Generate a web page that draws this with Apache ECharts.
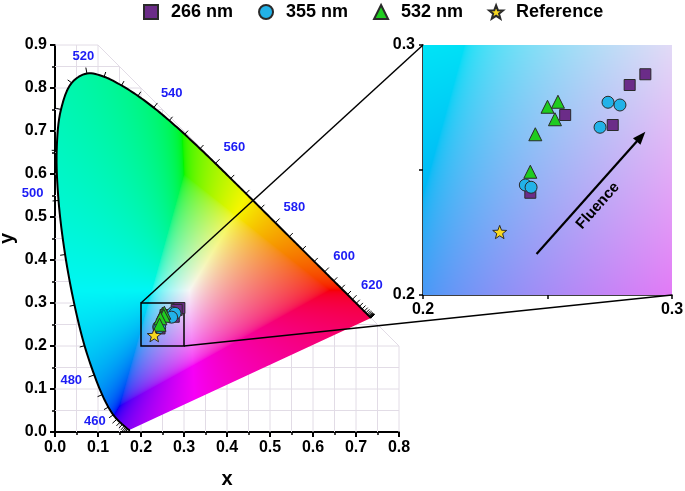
<!DOCTYPE html>
<html><head><meta charset="utf-8">
<script src="https://cdn.jsdelivr.net/npm/echarts@6/dist/echarts.min.js"></script>
<style>html,body{margin:0;padding:0;background:#fff}#c{width:685px;height:491px}</style>
</head><body><div id="c"></div>
<script>
const FONT = '"Liberation Sans", Arial, Helvetica, sans-serif';

// CIE 1931 2-degree spectral locus (5 nm steps)
const locusWavelengths = [380,385,390,395,400,405,410,415,420,425,430,435,440,445,450,455,460,465,470,475,480,485,490,495,500,505,510,515,520,525,530,535,540,545,550,555,560,565,570,575,580,585,590,595,600,605,610,615,620,625,630,635,640,645,650,655,660,665,670,675,680,685,690,695,700];
const locusX = [0.1741,0.1740,0.1738,0.1736,0.1733,0.1730,0.1726,0.1721,0.1714,0.1703,0.1689,0.1669,0.1644,0.1611,0.1566,0.1510,0.1440,0.1355,0.1241,0.1096,0.0913,0.0687,0.0454,0.0235,0.0082,0.0039,0.0139,0.0389,0.0743,0.1142,0.1547,0.1929,0.2296,0.2658,0.3016,0.3373,0.3731,0.4087,0.4441,0.4788,0.5125,0.5448,0.5752,0.6029,0.6270,0.6482,0.6658,0.6801,0.6915,0.7006,0.7079,0.7140,0.7190,0.7230,0.7260,0.7283,0.7300,0.7311,0.7320,0.7327,0.7334,0.7340,0.7344,0.7346,0.7347];
const locusY = [0.0050,0.0050,0.0049,0.0049,0.0048,0.0048,0.0048,0.0048,0.0051,0.0058,0.0069,0.0086,0.0109,0.0138,0.0177,0.0227,0.0297,0.0399,0.0578,0.0868,0.1327,0.2007,0.2950,0.4127,0.5384,0.6548,0.7502,0.8120,0.8338,0.8262,0.8059,0.7816,0.7543,0.7243,0.6923,0.6589,0.6245,0.5896,0.5547,0.5202,0.4866,0.4544,0.4242,0.3965,0.3725,0.3514,0.3340,0.3197,0.3083,0.2993,0.2920,0.2859,0.2809,0.2770,0.2740,0.2717,0.2700,0.2689,0.2680,0.2673,0.2666,0.2660,0.2656,0.2654,0.2653];
const labeledWavelengths = [460,480,500,520,540,560,580,600,620];
const tickStartWavelength = 430;

// measured chromaticity points
const seriesNames = ['266 nm','355 nm','532 nm','Reference'];
const data266 = [[0.2893,0.2883],[0.2830,0.2840],[0.2571,0.2720],[0.2762,0.2680],[0.2431,0.2409]];
const data355 = [[0.2743,0.2771],[0.2791,0.2760],[0.2711,0.2671],[0.2411,0.2440],[0.2434,0.2431]];
const data532 = [[0.2500,0.2753],[0.2542,0.2773],[0.2530,0.2703],[0.2451,0.2643],[0.2431,0.2493]];
const dataRef = [[0.2308,0.2252]];

// zoom window and annotation
const zoomX = [0.2, 0.3];
const zoomY = [0.2, 0.3];
const arrowFrom = [0.2456, 0.2164];
const arrowTo = [0.2893, 0.2653];
const fluenceText = 'Fluence';
const fluencePos = [0.2702, 0.2357];

// layout/styling (not data)
const wlLabelOffset = {460:[-22,2.5],480:[-23,5],500:[-26,-7],520:[-3.5,-17],540:[18,-14],560:[19,-16],580:[19,-15],600:[19.5,-15],620:[19.5,-14]};
const COLORS = {sq:'#6b2c88', ci:'#22b2e8', tr:'#1fcc1f', st:'#f8d820'};

function starPath(){
  let s = 'path://';
  for (let k=0;k<10;k++){
    const a = -Math.PI/2 + k*Math.PI/5, r = k%2===0?1:0.42;
    s += (k===0?'M':'L') + (r*Math.cos(a)).toFixed(4) + ' ' + (r*Math.sin(a)).toFixed(4) + ' ';
  }
  return s + 'Z';
}
const STAR = starPath();

// centripetal Catmull-Rom through pixel points (drawing only)
function smoothPath(pts, steps){
  const out = [];
  const n = pts.length;
  const P = i => {
    if (i < 0) return [2*pts[0][0]-pts[1][0], 2*pts[0][1]-pts[1][1]];
    if (i >= n) return [2*pts[n-1][0]-pts[n-2][0], 2*pts[n-1][1]-pts[n-2][1]];
    return pts[i];
  };
  const dt = (a,b) => Math.max(Math.pow(Math.hypot(b[0]-a[0], b[1]-a[1]), 0.5), 1e-4);
  const lerp = (a,b,ta,tb,t) => [ (tb-t)/(tb-ta)*a[0] + (t-ta)/(tb-ta)*b[0], (tb-t)/(tb-ta)*a[1] + (t-ta)/(tb-ta)*b[1] ];
  for (let i=0;i<n-1;i++){
    const p0=P(i-1), p1=P(i), p2=P(i+1), p3=P(i+2);
    const t0=0, t1=t0+dt(p0,p1), t2=t1+dt(p1,p2), t3=t2+dt(p2,p3);
    for (let s=0;s<steps;s++){
      const t = t1 + (t2-t1)*s/steps;
      const A1=lerp(p0,p1,t0,t1,t), A2=lerp(p1,p2,t1,t2,t), A3=lerp(p2,p3,t2,t3,t);
      const B1=lerp(A1,A2,t0,t2,t), B2=lerp(A2,A3,t1,t3,t);
      out.push(lerp(B1,B2,t1,t2,t));
    }
  }
  out.push(pts[n-1]);
  return out;
}

function xyToRGB(x, y){
  const X = x/y, Y = 1, Z = (1-x-y)/y;
  let r = 3.2406*X - 1.5372*Y - 0.4986*Z;
  let g = -0.9689*X + 1.8758*Y + 0.0415*Z;
  let b = 0.0557*X - 0.2040*Y + 1.0570*Z;
  const m = Math.min(r,g,b);
  if (m < 0){ r -= m; g -= m; b -= m; }
  const M = Math.max(r,g,b);
  r/=M; g/=M; b/=M;
  const gm = v => v <= 0.0031308 ? 12.92*v : 1.055*Math.pow(v,1/2.4) - 0.055;
  return [gm(r)*246, gm(g)*246, gm(b)*246];
}

function makeImage(w, h, x0, x1, y0, y1, clipPts){
  w = Math.round(w); h = Math.round(h);
  const c = document.createElement('canvas'); c.width = w; c.height = h;
  const ctx = c.getContext('2d');
  const img = ctx.createImageData(w, h);
  for (let j=0;j<h;j++){
    const yy = y1 - (j+0.5)/h*(y1-y0);
    for (let i=0;i<w;i++){
      const xx = x0 + (i+0.5)/w*(x1-x0);
      const k = (j*w+i)*4;
      if (yy <= 0.001 || xx + yy > 1.2){ img.data[k+3]=0; continue; }
      const rgb = xyToRGB(xx, yy);
      img.data[k]=rgb[0]; img.data[k+1]=rgb[1]; img.data[k+2]=rgb[2]; img.data[k+3]=255;
    }
  }
  ctx.putImageData(img, 0, 0);
  if (!clipPts) return c;
  const c2 = document.createElement('canvas'); c2.width = w; c2.height = h;
  const ctx2 = c2.getContext('2d');
  ctx2.beginPath();
  clipPts.forEach((p,i)=> i===0 ? ctx2.moveTo(p[0],p[1]) : ctx2.lineTo(p[0],p[1]));
  ctx2.closePath();
  ctx2.clip();
  ctx2.drawImage(c, 0, 0);
  return c2;
}

let mainImg = null, insetImg = null;

const chart = echarts.init(document.getElementById('c'), null, {renderer:'canvas'});

function axisCommon(){
  return {
    type:'value',
    axisLine:{show:true, onZero:false, lineStyle:{color:'#000', width:2}},
    axisTick:{show:true, length:5, lineStyle:{color:'#000', width:2}},
    splitLine:{show:false},
    axisLabel:{color:'#000', fontSize:16, fontWeight:'bold', fontFamily:FONT, formatter: v => v.toFixed(1)}
  };
}

function scat(name, data, gi, symbol, size, color, z){
  return {type:'scatter', name, data, xAxisIndex:gi, yAxisIndex:gi, symbol, symbolSize:size, symbolKeepAspect:true,
    itemStyle:{color, borderColor:'#2a2a2a', borderWidth:1, opacity:1}, z:z, silent:true, emphasis:{disabled:true}};
}

const option = {
  animation:false,
  backgroundColor:'#fff',
  legend:{
    data: seriesNames, left:143, top:3, padding:0, itemWidth:14, itemHeight:14, itemGap:25, selectedMode:false,
    textStyle:{fontSize:18, fontWeight:'bold', color:'#000', fontFamily:FONT, padding:[0,0,0,8]}
  },
  grid:[
    {left:55, top:45, width:344, height:387, outerBoundsMode:'none', containLabel:false},
    {left:423, top:45, width:249, height:250, outerBoundsMode:'none', containLabel:false}
  ],
  xAxis:[
    Object.assign(axisCommon(), {gridIndex:0, min:0, max:0.8, interval:0.1,
      minorTick:{show:true, splitNumber:2, length:3, lineStyle:{color:'#000', width:1.5}},
      name:'x', nameLocation:'middle', nameGap:37, nameMoveOverlap:false,
      nameTextStyle:{fontSize:20, fontWeight:'bold', color:'#000', fontFamily:FONT}}),
    Object.assign(axisCommon(), {gridIndex:1, min:0.2, max:0.3, interval:0.05,
      axisLine:{show:true, onZero:false, lineStyle:{color:'#000', width:1.5}},
      axisTick:{show:true, length:4, lineStyle:{color:'#000', width:1.5}},
      axisLabel:{color:'#000', fontSize:16, fontWeight:'bold', fontFamily:FONT, margin:7,
        formatter: v => Math.abs(v-0.25) < 1e-6 ? '' : v.toFixed(1)}})
  ],
  yAxis:[
    Object.assign(axisCommon(), {gridIndex:0, min:0, max:0.9, interval:0.1,
      minorTick:{show:true, splitNumber:2, length:3, lineStyle:{color:'#000', width:1.5}},
      name:'y', nameLocation:'middle', nameGap:38, nameMoveOverlap:false,
      nameTextStyle:{fontSize:20, fontWeight:'bold', color:'#000', fontFamily:FONT}}),
    Object.assign(axisCommon(), {gridIndex:1, min:0.2, max:0.3, interval:0.05,
      axisLine:{show:true, onZero:false, lineStyle:{color:'#000', width:1.5}},
      axisTick:{show:true, length:4, lineStyle:{color:'#000', width:1.5}},
      axisLabel:{color:'#000', fontSize:16, fontWeight:'bold', fontFamily:FONT, margin:8,
        formatter: v => Math.abs(v-0.25) < 1e-6 ? '' : v.toFixed(1)}})
  ],
  series:[
    // background grid within x+y<=1
    {type:'custom', xAxisIndex:0, yAxisIndex:0, data:[[0,0]], z:1, silent:true,
      renderItem:function(params, api){
        const ch = [];
        const st = {stroke:'#e2dce6', lineWidth:1};
        for (let k=1;k<=16;k++){
          const x = k*0.05, ytop = Math.min(0.9, 1-x);
          const a = api.coord([x,0]), b = api.coord([x,ytop]);
          ch.push({type:'line', shape:{x1:a[0],y1:a[1],x2:b[0],y2:b[1]}, style:st});
        }
        for (let k=1;k<=18;k++){
          const y = k*0.05, xr = Math.min(0.8, 1-y);
          const a = api.coord([0,y]), b = api.coord([xr,y]);
          ch.push({type:'line', shape:{x1:a[0],y1:a[1],x2:b[0],y2:b[1]}, style:st});
        }
        const a = api.coord([0.1,0.9]), b = api.coord([0.8,0.2]);
        ch.push({type:'line', shape:{x1:a[0],y1:a[1],x2:b[0],y2:b[1]}, style:st});
        return {type:'group', children:ch};
      }},
    // chromaticity colour fill
    {type:'custom', xAxisIndex:0, yAxisIndex:0, data:[[0,0]], z:2, silent:true,
      renderItem:function(params, api){
        const cs = params.coordSys;
        if (!mainImg){
          const raw = locusX.map((x,i)=>api.coord([x, locusY[i]]));
          const pts = smoothPath(raw, 8).map(p=>[p[0]-cs.x, p[1]-cs.y]);
          mainImg = makeImage(cs.width, cs.height, 0, 0.8, 0, 0.9, pts);
        }
        return {type:'image', style:{image:mainImg, x:cs.x, y:cs.y, width:cs.width, height:cs.height}};
      }},
    // spectral locus line, ticks and labels
    {type:'custom', xAxisIndex:0, yAxisIndex:0, data:[[0,0]], z:3, silent:true,
      renderItem:function(params, api){
        const pts = locusX.map((x,i)=>api.coord([x, locusY[i]]));
        const ch = [{type:'polyline', shape:{points:smoothPath(pts, 8)}, style:{stroke:'#000', lineWidth:2, fill:null, lineJoin:'round'}}];
        const n = pts.length;
        for (let i=0;i<n;i++){
          const wl = locusWavelengths[i];
          if (wl < tickStartWavelength) continue;
          let p0 = pts[Math.max(i-1,0)], p1 = pts[Math.min(i+1,n-1)];
          let tx = p1[0]-p0[0], ty = p1[1]-p0[1];
          let L = Math.hypot(tx,ty);
          if (L < 1){ p0 = pts[n-12]; p1 = pts[n-1]; tx = p1[0]-p0[0]; ty = p1[1]-p0[1]; L = Math.hypot(tx,ty); }
          tx/=L; ty/=L;
          const nx = ty, ny = -tx;
          const len = labeledWavelengths.indexOf(wl) >= 0 ? 6 : 5;
          const p = pts[i];
          ch.push({type:'line', shape:{x1:p[0], y1:p[1], x2:p[0]+nx*len, y2:p[1]+ny*len}, style:{stroke:'#000', lineWidth:1}});
        }
        labeledWavelengths.forEach(wl=>{
          const i = locusWavelengths.indexOf(wl);
          const p = pts[i], off = wlLabelOffset[wl];
          ch.push({type:'text', x:p[0]+off[0], y:p[1]+off[1],
            style:{text:String(wl), fill:'#1c1cf5', fontSize:13, fontWeight:'bold', fontFamily:FONT, align:'center', verticalAlign:'middle'}});
        });
        return {type:'group', children:ch};
      }},
    // zoom box in main chart
    {type:'custom', xAxisIndex:0, yAxisIndex:0, data:[[0,0]], z:4, silent:true,
      renderItem:function(params, api){
        const a = api.coord([zoomX[0], zoomY[1]]), b = api.coord([zoomX[1], zoomY[0]]);
        return {type:'rect', shape:{x:a[0], y:a[1], width:b[0]-a[0], height:b[1]-a[1]}, style:{stroke:'#000', lineWidth:1.5, fill:null}};
      }},
    // inset colour fill
    {type:'custom', xAxisIndex:1, yAxisIndex:1, data:[[0.25,0.25]], z:2, silent:true,
      renderItem:function(params, api){
        const cs = params.coordSys;
        if (!insetImg) insetImg = makeImage(cs.width, cs.height, zoomX[0], zoomX[1], zoomY[0], zoomY[1], null);
        return {type:'image', style:{image:insetImg, x:cs.x, y:cs.y, width:cs.width, height:cs.height}};
      }},
    // arrow + label in inset
    {type:'custom', xAxisIndex:1, yAxisIndex:1, data:[[0.25,0.25]], z:6, silent:true,
      renderItem:function(params, api){
        const p1 = api.coord(arrowFrom), p2 = api.coord(arrowTo);
        let dx = p2[0]-p1[0], dy = p2[1]-p1[1];
        const L = Math.hypot(dx,dy); dx/=L; dy/=L;
        const hl = 13, hw = 5;
        const bx = p2[0]-dx*hl, by = p2[1]-dy*hl;
        const tp = api.coord(fluencePos);
        return {type:'group', children:[
          {type:'line', shape:{x1:p1[0], y1:p1[1], x2:bx+dx*2, y2:by+dy*2}, style:{stroke:'#000', lineWidth:2.2}},
          {type:'polygon', shape:{points:[[p2[0],p2[1]],[bx-dy*hw, by+dx*hw],[bx+dy*hw, by-dx*hw]]}, style:{fill:'#000'}},
          {type:'text', x:tp[0], y:tp[1], rotation:Math.atan2(-dy, dx),
            style:{text:fluenceText, fill:'#000', fontSize:15, fontWeight:'bold', fontFamily:FONT, align:'center', verticalAlign:'middle'}}
        ]};
      }},
    scat(seriesNames[0], data266, 0, 'rect', 11, COLORS.sq, 5),
    scat(seriesNames[1], data355, 0, 'circle', 12, COLORS.ci, 5),
    scat(seriesNames[2], data532, 0, 'triangle', 13, COLORS.tr, 5),
    scat(seriesNames[3], dataRef, 0, STAR, 14, COLORS.st, 5),
    scat(seriesNames[0], data266, 1, 'rect', 11, COLORS.sq, 5),
    scat(seriesNames[1], data355, 1, 'circle', 12, COLORS.ci, 5),
    scat(seriesNames[2], data532, 1, 'triangle', 13, COLORS.tr, 5),
    scat(seriesNames[3], dataRef, 1, STAR, 14, COLORS.st, 5)
  ]
};
chart.setOption(option);

const a1 = chart.convertToPixel({gridIndex:0}, [zoomX[0], zoomY[1]]);
const b1 = chart.convertToPixel({gridIndex:1}, [zoomX[0], zoomY[1]]);
const a2 = chart.convertToPixel({gridIndex:0}, [zoomX[1], zoomY[0]]);
const b2 = chart.convertToPixel({gridIndex:1}, [zoomX[1], zoomY[0]]);
chart.setOption({graphic:[
  {type:'line', z:100, silent:true, shape:{x1:a1[0], y1:a1[1], x2:b1[0], y2:b1[1]}, style:{stroke:'#000', lineWidth:1.5}},
  {type:'line', z:100, silent:true, shape:{x1:a2[0], y1:a2[1], x2:b2[0], y2:b2[1]}, style:{stroke:'#000', lineWidth:1.5}}
]});
</script></body></html>
